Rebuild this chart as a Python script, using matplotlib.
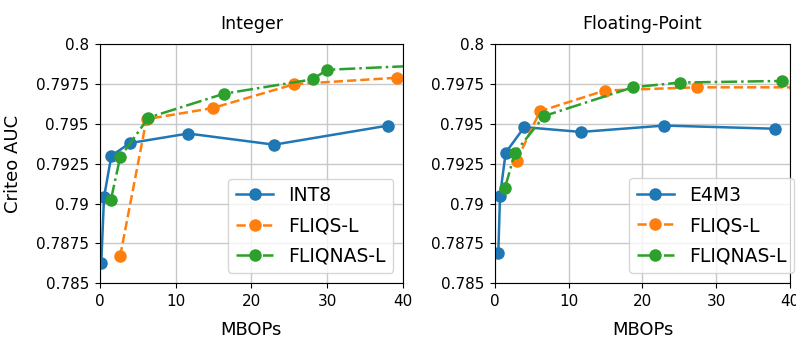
import matplotlib
matplotlib.use("Agg")
import matplotlib.pyplot as plt
from matplotlib.ticker import FuncFormatter

# Integer panel
int8_x = [0.17, 0.53, 1.5, 3.95, 11.65, 23.0, 38.07]
int8_y = [0.7863, 0.7904, 0.7930, 0.7938, 0.7944, 0.7937, 0.7949]
int_fliqs_x = [2.66, 6.15, 14.9, 25.7, 39.2]
int_fliqs_y = [0.7867, 0.7953, 0.7960, 0.7975, 0.7979]
int_fliqnas_x = [1.42, 2.66, 6.4, 16.4, 28.1, 30.0, 44.0]
int_fliqnas_y = [0.7902, 0.7929, 0.7954, 0.7969, 0.7978, 0.7984, 0.7987]

# Floating-point panel
e4m3_x = [0.45, 0.68, 1.45, 3.97, 11.66, 22.96, 38.0]
e4m3_y = [0.7869, 0.7905, 0.7932, 0.7948, 0.7945, 0.7949, 0.7947]
fp_fliqs_x = [2.94, 6.1, 14.9, 27.35, 40.7]
fp_fliqs_y = [0.7927, 0.7958, 0.7971, 0.7973, 0.7973]
fp_fliqnas_x = [1.36, 2.71, 6.68, 18.67, 25.08, 38.9]
fp_fliqnas_y = [0.7910, 0.7932, 0.7955, 0.7973, 0.7976, 0.7977]

yticks = [0.785, 0.7875, 0.79, 0.7925, 0.795, 0.7975, 0.8]
xticks = [0, 10, 20, 30, 40]

blue, orange, green = "#1f77b4", "#ff7f0e", "#2ca02c"

fig = plt.figure(figsize=(7.96, 3.43), dpi=100)
ax1 = fig.add_axes([100 / 796, 59.7 / 343, 302.7 / 796, 239 / 343])
ax2 = fig.add_axes([495 / 796, 59.7 / 343, 295 / 796, 239 / 343])

panels = [
    (ax1, "Integer", "INT8", int8_x, int8_y, int_fliqs_x, int_fliqs_y, int_fliqnas_x, int_fliqnas_y, (0.969, 0.043)),
    (ax2, "Floating-Point", "E4M3", e4m3_x, e4m3_y, fp_fliqs_x, fp_fliqs_y, fp_fliqnas_x, fp_fliqnas_y, (1.0136, 0.044)),
]

for ax, title, base, bx, by, qx, qy, nx, ny, anchor in panels:
    ax.plot(bx, by, "-o", color=blue, lw=1.8, ms=8, label=base)
    ax.plot(qx, qy, "--o", color=orange, lw=1.8, ms=8, label="FLIQS-L")
    ax.plot(nx, ny, "-.o", color=green, lw=1.8, ms=8, label="FLIQNAS-L")
    ax.set_xlim(0, 40)
    ax.set_ylim(0.785, 0.8)
    ax.set_xticks(xticks)
    ax.set_yticks(yticks)
    ax.yaxis.set_major_formatter(FuncFormatter(lambda v, p: "%g" % round(v, 5)))
    ax.tick_params(labelsize=11, pad=4.5)
    ax.grid(True, color="#c8c8c8", lw=1)
    ax.set_axisbelow(True)
    ax.set_title(title, fontsize=12.5, pad=11)
    ax.set_xlabel("MBOPs", fontsize=13, labelpad=8)
    leg = ax.legend(loc="lower right", bbox_to_anchor=anchor, borderaxespad=0,
                    fontsize=13.5, labelspacing=0.6)
    leg.set_clip_on(False)

ax1.set_ylabel("Criteo AUC", fontsize=13, labelpad=10)

fig.savefig("out.png", dpi=100)
